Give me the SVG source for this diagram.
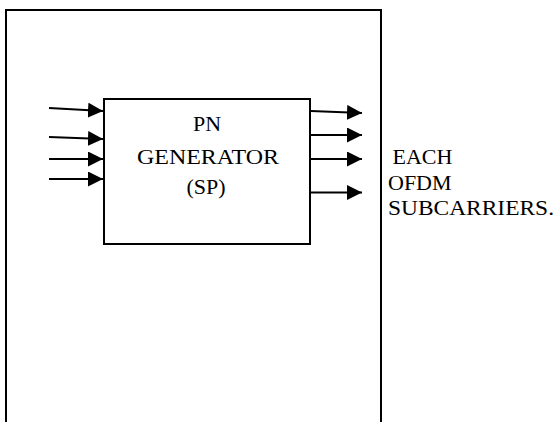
<svg xmlns="http://www.w3.org/2000/svg" width="555" height="422" viewBox="0 0 555 422">
<style>
.ln{stroke:#000;stroke-width:2;fill:none}
.t{font-family:"Liberation Serif","Times New Roman",serif;font-size:22px;fill:#000}
</style>
<defs>
<marker id="ah" markerUnits="userSpaceOnUse" markerWidth="16" markerHeight="16" refX="15" refY="7.5" orient="auto">
<path d="M0,0 L15,7.5 L0,15 Z" fill="#000"/>
</marker>
</defs>
<rect width="555" height="422" fill="#fff"/>
<g id="frame"><path class="ln" d="M6,422 V10 H381 V422"/></g>
<g id="pn-generator">
<rect class="ln" x="104" y="99" width="206" height="145" fill="#fff"/>
<text class="t" x="207" y="131" text-anchor="middle">PN</text>
<text class="t" x="137" y="164" textLength="142" lengthAdjust="spacingAndGlyphs">GENERATOR</text>
<text class="t" x="206" y="193.5" text-anchor="middle">(SP)</text>
</g>
<g id="label">
<text class="t" x="392.5" y="164">EACH</text>
<text class="t" x="388" y="189.5">OFDM</text>
<text class="t" x="388" y="215" textLength="166" lengthAdjust="spacingAndGlyphs">SUBCARRIERS.</text>
</g>
<g id="connectors">
<line class="ln" x1="49" y1="108" x2="103" y2="111" marker-end="url(#ah)"/>
<line class="ln" x1="49" y1="137" x2="103" y2="139" marker-end="url(#ah)"/>
<line class="ln" x1="49" y1="159" x2="103" y2="159" marker-end="url(#ah)"/>
<line class="ln" x1="49" y1="179" x2="103" y2="179" marker-end="url(#ah)"/>
<line class="ln" x1="311" y1="111" x2="362" y2="113" marker-end="url(#ah)"/>
<line class="ln" x1="311" y1="135" x2="362" y2="135" marker-end="url(#ah)"/>
<line class="ln" x1="311" y1="159" x2="362" y2="159" marker-end="url(#ah)"/>
<line class="ln" x1="311" y1="192.5" x2="362" y2="192.5" marker-end="url(#ah)"/>
</g>
</svg>
